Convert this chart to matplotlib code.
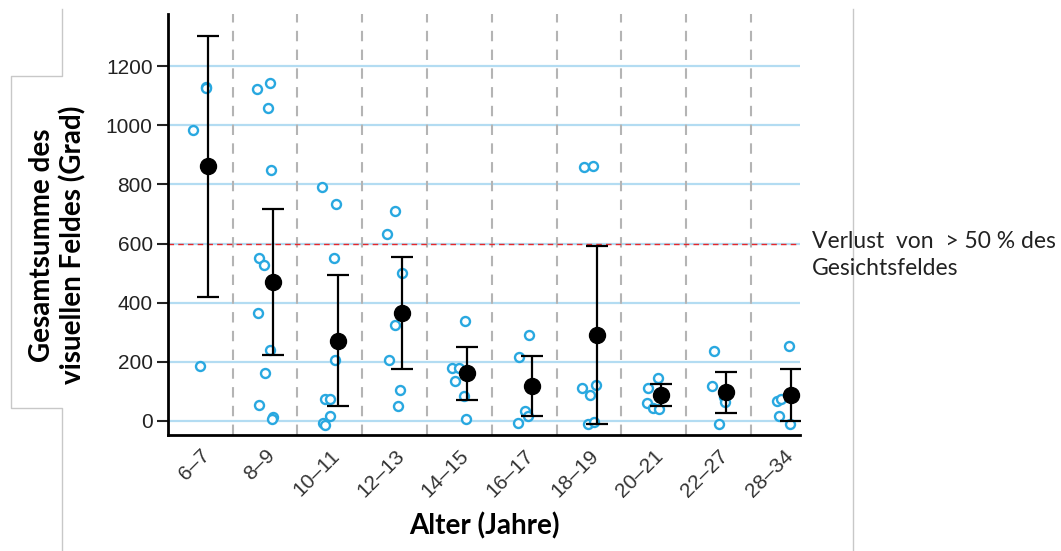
import matplotlib
matplotlib.use("Agg")
import matplotlib.pyplot as plt
from matplotlib.lines import Line2D

#### Daten

alter = ["6–7", "8–9", "10–11", "12–13", "14–15", "16–17", "18–19", "20–21", "22–27", "28–34"]

# Einzelwerte pro Altersgruppe (Grad) und seitlicher Versatz der Punkte
werte = [
    [1131, 1125, 984, 186],
    [1122, 1145, 1059, 850, 550, 528, 364, 239, 161, 54, 14, 5],
    [790, 735, 551, 206, 73, 73, 17, -9, -14],
    [709, 632, 499, 325, 206, 104, 50],
    [338, 180, 180, 136, 85, 5],
    [290, 217, 34, 17, -7],
    [859, 864, 110, 87, 121, -11, -4],
    [144, 110, 61, 44, 39],
    [236, 119, 80, 64, -11],
    [253, 68, 73, 16, -12],
]
versatz = [
    [0.08, 0.09, -0.12, -0.01],
    [-0.13, 0.08, 0.04, 0.09, -0.09, -0.02, -0.11, 0.07, 0.0, -0.09, 0.12, 0.11],
    [-0.12, 0.09, 0.06, 0.08, -0.07, 0.0, 0.01, -0.10, -0.08],
    [0.0, -0.11, 0.11, 0.0, -0.09, 0.08, 0.06],
    [0.09, -0.12, 0.0, -0.07, 0.07, 0.10],
    [0.07, -0.08, 0.01, 0.06, -0.10],
    [-0.08, 0.06, -0.11, 0.01, 0.11, -0.01, 0.08],
    [0.07, -0.08, -0.10, -0.01, 0.09],
    [-0.07, -0.10, 0.08, 0.10, 0.01],
    [0.09, -0.10, -0.03, -0.06, 0.10],
]

mittel = [862, 471, 271, 364, 163, 119, 290, 87, 98, 87]
fehler_oben = [1303, 717, 492, 554, 249, 218, 592, 123, 166, 174]
fehler_unten = [419, 224, 50, 175, 70, 16, -11, 50, 25, -1]

grenze = 600
yticks = [0, 200, 400, 600, 800, 1000, 1200]

### Figur

fig = plt.figure(figsize=(10.61, 5.51), dpi=100)
ax = fig.add_axes([0.1583, 0.2105, 0.5957, 0.7641])

for y in yticks:
    ax.axhline(y, color="#b3dcf2", lw=1.6, zorder=0)
ax.axhline(grenze, color="#e8282b", lw=1.0, ls=(0, (4, 3)), zorder=1)

for i in range(len(alter) - 1):
    ax.axvline(i + 0.5, color="#b4b4b4", lw=1.5, ls=(0, (5, 4)), zorder=0)

for i in range(len(alter)):
    xs = [i + d for d in versatz[i]]
    ax.scatter(xs, werte[i], s=42, facecolors="white", edgecolors="#29a8e0",
               linewidths=1.7, zorder=3)

xm = [i + 0.12 for i in range(len(alter))]
err = [[m - u for m, u in zip(mittel, fehler_unten)],
       [o - m for o, m in zip(fehler_oben, mittel)]]
ax.errorbar(xm, mittel, yerr=err, fmt="o", color="black", ms=11.5,
            elinewidth=1.6, capsize=8, capthick=1.6, zorder=4)

ax.set_xlim(-0.5, 9.26)
ax.set_ylim(-48, 1377)
ax.set_yticks(yticks)
ax.set_xticks(range(len(alter)))
ax.set_xticklabels(alter, rotation=45, ha="right", rotation_mode="anchor",
                   family="Liberation Sans", fontsize=15, color="#333333")
for lab in ax.get_yticklabels():
    lab.set_family("Liberation Sans")
ax.tick_params(axis="y", length=8, width=1.5, labelsize=15, colors="#222222", pad=3)
ax.tick_params(axis="x", length=0, pad=8)

for s in ["top", "right"]:
    ax.spines[s].set_visible(False)
ax.spines["left"].set_linewidth(2)
ax.spines["bottom"].set_linewidth(2)

ax.set_xlabel("Alter (Jahre)", family="Lato", fontweight="bold", fontsize=20, labelpad=8)
fig.text(0.054, 0.555, "Gesamtsumme des\nvisuellen Feldes (Grad)", rotation=90,
         family="Lato", fontweight="bold", fontsize=20, ha="center", va="center",
         linespacing=1.2)

fig.text(812 / 1061, 1 - 255 / 551, "Verlust  von  > 50 % des\nGesichtsfeldes",
         family="Lato", fontsize=16.5, color="#222222", ha="left", va="center",
         linespacing=1.3)

# Rahmenlinien aus der Vorlage
W, H = 1061, 551
def fline(xs, ys):
    fig.add_artist(Line2D([x / W for x in xs], [1 - y / H for y in ys],
                          color="#c8c8c8", lw=1.0, transform=fig.transFigure))

fline([62, 62, 11, 11, 62, 62], [9, 76, 76, 408, 408, 551])
fline([853, 853], [9, 551])

fig.savefig("out.png", dpi=100)
